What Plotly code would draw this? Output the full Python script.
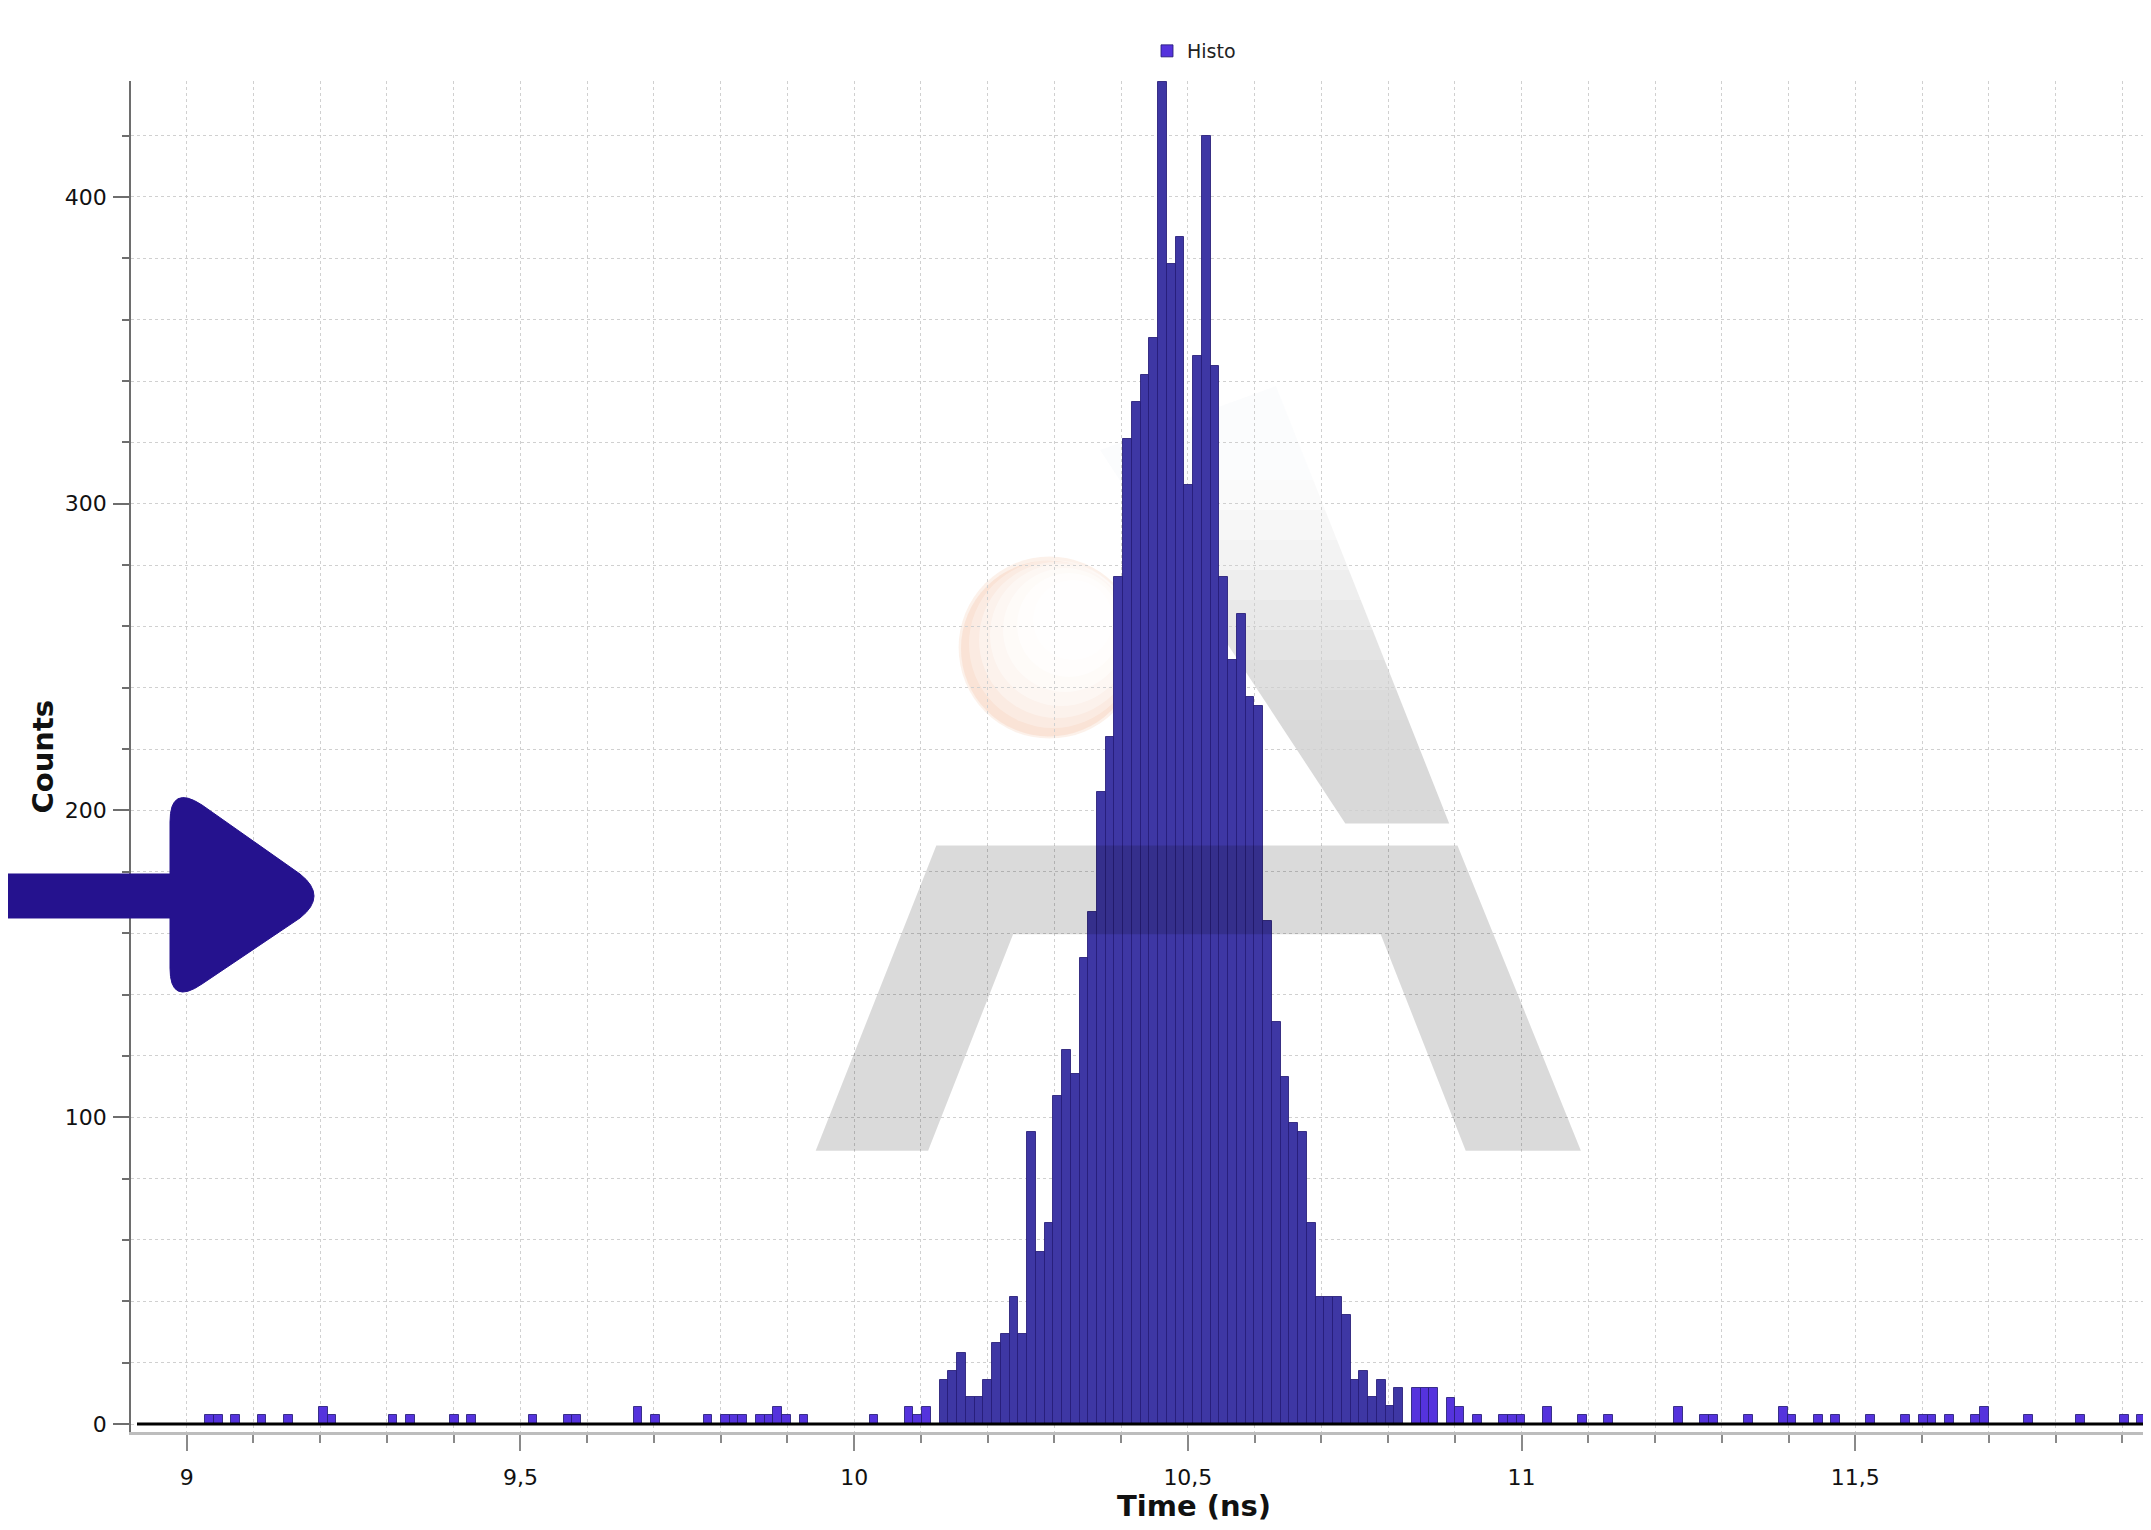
import plotly.graph_objects as go

# ---------------- data ----------------
BIN_WIDTH = 0.0131  # ns

# sparse background counts before the peak (bin centres, ns)
left_times = [9.0342, 9.0473, 9.0735, 9.1128, 9.1521, 9.2045, 9.2176, 9.3093, 9.3355,
              9.4010, 9.4272, 9.5189, 9.5713, 9.5844, 9.6761, 9.7023, 9.7809, 9.8071,
              9.8202, 9.8333, 9.8595, 9.8726, 9.8857, 9.8988, 9.9250, 10.0298, 10.0822,
              10.0953, 10.1084]
left_counts = [2.8, 2.8, 2.8, 2.8, 2.8, 5.7, 2.8, 2.8, 2.8,
               2.8, 2.8, 2.8, 2.8, 2.8, 5.7, 2.8, 2.8, 2.8,
               2.8, 2.8, 2.8, 2.8, 5.7, 2.8, 2.8, 2.8, 5.6,
               2.9, 5.6]

# main peak (contiguous bins)
peak_times = [10.1346, 10.1477, 10.1608, 10.1739, 10.1870, 10.2001, 10.2132, 10.2263,
              10.2394, 10.2525, 10.2656, 10.2787, 10.2918, 10.3049, 10.3180, 10.3311,
              10.3442, 10.3573, 10.3704, 10.3835, 10.3966, 10.4097, 10.4228, 10.4359,
              10.4490, 10.4621, 10.4752, 10.4883, 10.5014, 10.5145, 10.5276, 10.5407,
              10.5538, 10.5669, 10.5800, 10.5931, 10.6062, 10.6193, 10.6324, 10.6455,
              10.6586, 10.6717, 10.6848, 10.6979, 10.7110, 10.7241, 10.7372, 10.7503,
              10.7634, 10.7765, 10.7896, 10.8027, 10.8158]
peak_counts = [14.5, 17.3, 23.3, 8.7, 8.7, 14.5, 26.5, 29.3,
               41.3, 29.3, 95.3, 56.2, 65.4, 107, 122, 114,
               152, 167, 206, 224, 276, 321, 333, 342,
               354, 437.5, 378, 387, 306, 348, 420, 345,
               276, 249, 264, 237, 234, 164, 131, 113,
               98, 95.3, 65.4, 41.3, 41.3, 41.3, 35.4, 14.5,
               17.3, 8.7, 14.5, 6.0, 11.8]

# sparse counts after the peak
right_times = [10.8420, 10.8551, 10.8682, 10.8944, 10.9075, 10.9337, 10.9730, 10.9861,
               10.9992, 11.0385, 11.0909, 11.1302, 11.2350, 11.2743, 11.2874, 11.3398,
               11.3922, 11.4053, 11.4446, 11.4708, 11.5232, 11.5756, 11.6018, 11.6149,
               11.6411, 11.6804, 11.6935, 11.7590, 11.8376, 11.9031, 11.9293]
right_counts = [11.8, 11.8, 11.8, 8.6, 5.7, 2.8, 2.8, 2.8,
                2.8, 5.7, 2.8, 2.8, 5.7, 2.8, 2.8, 2.8,
                5.7, 2.8, 2.8, 2.8, 2.8, 2.8, 2.8, 2.8,
                2.8, 2.8, 5.7, 2.8, 2.8, 2.8, 2.8]

x_tick_vals = [9, 9.5, 10, 10.5, 11, 11.5]
x_tick_text = ["9", "9,5", "10", "10,5", "11", "11,5"]
y_tick_vals = [0, 100, 200, 300, 400]
y_tick_text = ["0", "100", "200", "300", "400"]

# ---------------- styling ----------------
OFF = 8                      # default page margin of the html body
W, H = 2151 - OFF, 1530 - OFF
ML, MR, MT, MB = 131 - OFF, 4, 81 - OFF, 98
PW, PH = W - ML - MR, H - MT - MB
PLOT_LEFT, PLOT_BOTTOM = OFF + ML, OFF + MT + PH   # on-screen pixels

SPARSE_COLOR = "#5533dd"
PEAK_COLOR = "#3e37a4"
FONT = "DejaVu Sans"

times = left_times + peak_times + right_times
counts = left_counts + peak_counts + right_counts
colors = ([SPARSE_COLOR] * len(left_times) + [PEAK_COLOR] * len(peak_times)
          + [SPARSE_COLOR] * len(right_times))


def px(x):
    """screen pixel x -> paper coordinate"""
    return (x - PLOT_LEFT) / PW


def py(y):
    """screen pixel y -> paper coordinate"""
    return (PLOT_BOTTOM - y) / PH


fig = go.Figure()
fig.add_trace(go.Bar(
    x=times, y=counts, width=BIN_WIDTH, name="Histo",
    marker=dict(color=colors, line=dict(color="rgba(38,28,120,0.85)", width=1)),
    showlegend=True,
))

shapes = []


def circle(cx, cy, r, fill, layer="below"):
    return dict(type="circle", xref="paper", yref="paper", layer=layer,
                x0=px(cx - r), x1=px(cx + r), y0=py(cy + r), y1=py(cy - r),
                fillcolor=fill, line=dict(width=0))


# ----- watermark: soft peach sphere (behind bars)
shapes.append(circle(1049.6, 647.6, 91, "rgba(247,214,196,0.35)"))
shapes.append(circle(1049.0, 648.5, 88, "rgba(245,196,170,0.30)"))
for (cx, cy, r, a) in [(1053, 644, 84, 0.30), (1057, 640, 78, 0.35), (1061, 635, 71, 0.40),
                       (1065, 630, 62, 0.45), (1069, 625, 52, 0.5), (1073, 620, 40, 0.6)]:
    shapes.append(circle(cx, cy, r, f"rgba(255,255,255,{a})"))


def poly_path(points):
    return "M " + " L ".join(f"{px(x):.5f},{py(y):.5f}" for x, y in points) + " Z"


# ----- watermark: lower part of the "A" (crossbar + legs), translucent overlay
lower_a = [(815.7, 1150.7), (936.3, 845.4), (1457.5, 845.4), (1580.9, 1150.7),
           (1465.7, 1150.7), (1380.7, 934.3), (1013.1, 934.3), (928.1, 1150.7)]
shapes.append(dict(type="path", xref="paper", yref="paper", layer="above",
                   path=poly_path(lower_a), fillcolor="black", opacity=0.145,
                   line=dict(width=0)))


# ----- watermark: upper diagonal stroke, fading toward the top (behind bars)
def left_edge(y):
    return 1100 + (y - 450) * 0.6568


def right_edge(y):
    return 1276 + (y - 386) * 0.3959


shapes.append(dict(type="path", xref="paper", yref="paper", layer="below",
                   path=poly_path([(1100, 450), (1276, 386), (right_edge(480), 480),
                                   (left_edge(480), 480)]),
                   fillcolor="rgba(215,222,232,0.10)", line=dict(width=0)))
band_edges = [480, 510, 540, 570, 600, 630, 660, 690, 720, 823.5]
band_alpha = [0.14, 0.22, 0.32, 0.45, 0.58, 0.72, 0.85, 0.95, 1.0]
for y_top, y_bot, a in zip(band_edges[:-1], band_edges[1:], band_alpha):
    shapes.append(dict(type="path", xref="paper", yref="paper", layer="below",
                       path=poly_path([(left_edge(y_top), y_top), (right_edge(y_top), y_top),
                                       (right_edge(y_bot), y_bot), (left_edge(y_bot), y_bot)]),
                       fillcolor=f"rgba(217,217,217,{a})", line=dict(width=0)))

# ----- black baseline at zero
shapes.append(dict(type="line", xref="paper", yref="y", layer="above",
                   x0=px(137), x1=1, y0=0, y1=0, line=dict(color="black", width=3)))


# ----- big arrow on the left
def P(x, y):
    return f"{px(x):.5f},{py(y):.5f}"


arrow = ("M " + P(170, 822) + " Q " + P(170, 784) + " " + P(202, 805)
         + " L " + P(300, 874) + " Q " + P(328, 896) + " " + P(300, 918)
         + " L " + P(202, 984) + " Q " + P(170, 1006) + " " + P(170, 968)
         + " L " + P(170, 918) + " L " + P(-10, 918) + " L " + P(-10, 874)
         + " L " + P(170, 874) + " Z")
shapes.append(dict(type="path", xref="paper", yref="paper", layer="above",
                   path=arrow, fillcolor="#25128e", line=dict(color="#25128e", width=1)))

grid_color = "#d0d0d0"

fig.update_layout(
    width=W, height=H,
    margin=dict(l=ML, r=MR, t=MT, b=MB, autoexpand=False),
    paper_bgcolor="white", plot_bgcolor="white",
    font=dict(family=FONT, size=22, color="#111111"),
    bargap=0,
    shapes=shapes,
    legend=dict(orientation="h", x=px(1194), xanchor="center", y=py(51), yanchor="middle",
                font=dict(family=FONT, size=19, color="#222222"), bgcolor="rgba(0,0,0,0)"),
    annotations=[
        dict(text="<b>Time (ns)</b>", xref="paper", yref="paper", x=px(1194), y=py(1506),
             xanchor="center", yanchor="middle", showarrow=False,
             font=dict(family=FONT, size=29, color="#111111")),
        dict(text="<b>Counts</b>", xref="paper", yref="paper", x=px(42.5), y=py(757),
             xanchor="center", yanchor="middle", textangle=-90, showarrow=False,
             font=dict(family=FONT, size=29, color="#111111")),
    ],
    xaxis=dict(
        range=[8.9166, 11.937], tickmode="array", tickvals=x_tick_vals, ticktext=x_tick_text,
        ticks="outside", ticklen=16, tickwidth=1.5, tickcolor="#8a8a8a",
        showline=True, linecolor="#bdbdbd", linewidth=3,
        showgrid=True, gridcolor=grid_color, griddash="dot", gridwidth=1,
        zeroline=False, ticklabelstandoff=8,
        tickfont=dict(family=FONT, size=22, color="#111111"),
        minor=dict(tickmode="linear", tick0=9, dtick=0.1, ticks="outside", ticklen=8,
                   tickwidth=1.5, tickcolor="#8a8a8a", showgrid=True,
                   gridcolor=grid_color, griddash="dot", gridwidth=1),
    ),
    yaxis=dict(
        range=[-2.6, 437.8], tickmode="array", tickvals=y_tick_vals, ticktext=y_tick_text,
        ticks="outside", ticklen=16, tickwidth=1.5, tickcolor="#6e6e6e",
        showline=True, linecolor="#6e6e6e", linewidth=1.5,
        showgrid=True, gridcolor=grid_color, griddash="dot", gridwidth=1,
        zeroline=False, ticklabelstandoff=2,
        tickfont=dict(family=FONT, size=22, color="#111111"),
        minor=dict(tickmode="linear", tick0=0, dtick=20, ticks="outside", ticklen=7,
                   tickwidth=1.5, tickcolor="#6e6e6e", showgrid=True,
                   gridcolor=grid_color, griddash="dot", gridwidth=1),
    ),
)

fig.write_html("out.html")
